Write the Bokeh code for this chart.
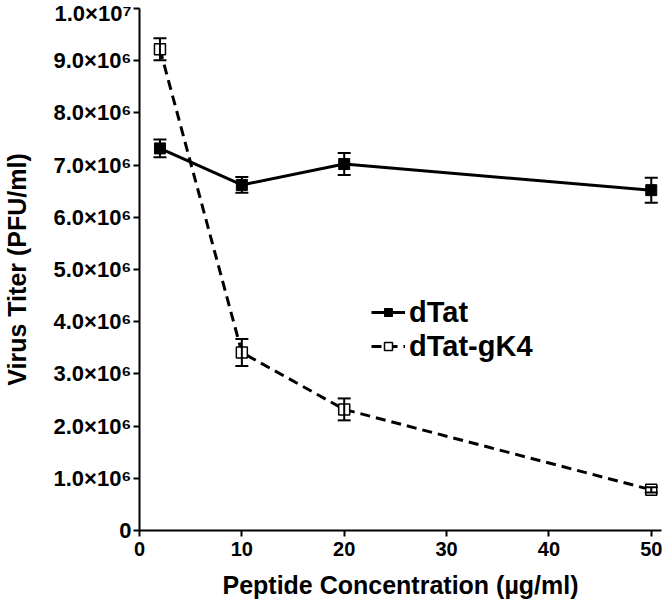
from bokeh.plotting import figure
from bokeh.models import (Range1d, FixedTicker, ColumnDataSource, Whisker,
                          TeeHead, Legend, LegendItem)
from bokeh.embed import file_html
from bokeh.resources import INLINE

# ---- data ----
concentration = [2, 10, 20, 50]
dtat_titer = [7.32e6, 6.62e6, 7.02e6, 6.52e6]
dtat_err = [0.17e6, 0.15e6, 0.21e6, 0.24e6]
gk4_titer = [9.22e6, 3.41e6, 2.32e6, 0.78e6]
gk4_err = [0.21e6, 0.26e6, 0.21e6, 0.05e6]

x_ticks = [0, 10, 20, 30, 40, 50]
y_ticks = [0, 1e6, 2e6, 3e6, 4e6, 5e6, 6e6, 7e6, 8e6, 9e6, 1e7]
y_tick_labels = ["0", "1.0×10⁶", "2.0×10⁶", "3.0×10⁶", "4.0×10⁶", "5.0×10⁶",
                 "6.0×10⁶", "7.0×10⁶", "8.0×10⁶", "9.0×10⁶", "1.0×10⁷"]

series_names = ["dTat", "dTat-gK4"]

FONT = "Liberation Sans"

p = figure(width=662, height=613, output_backend="svg", toolbar_location=None,
           x_range=Range1d(0, 51), y_range=Range1d(0, 1e7),
           min_border_left=136, min_border_right=1, min_border_top=8,
           min_border_bottom=83)
p.outline_line_color = None
p.xgrid.visible = False
p.ygrid.visible = False
p.background_fill_color = "white"

for ax in (p.xaxis[0], p.yaxis[0]):
    ax.axis_line_width = 2
    ax.axis_line_color = "black"
    ax.major_tick_line_width = 2
    ax.major_tick_line_color = "black"
    ax.major_tick_in = 0
    ax.major_tick_out = 6
    ax.minor_tick_line_color = None
    ax.major_label_text_font = FONT
    ax.major_label_text_font_style = "bold"
    ax.major_label_text_color = "black"
    ax.axis_label_text_font = FONT
    ax.axis_label_text_font_style = "bold"
    ax.axis_label_text_font_size = "25px"
    ax.axis_label_text_color = "black"

p.xaxis.major_label_text_font_size = "20px"
p.yaxis.major_label_text_font_size = "22px"
p.xaxis.ticker = FixedTicker(ticks=x_ticks)
p.yaxis.ticker = FixedTicker(ticks=y_ticks)
p.yaxis.major_label_overrides = {t: lab for t, lab in zip(y_ticks, y_tick_labels)}
p.xaxis.major_label_standoff = 5
p.yaxis.major_label_standoff = 2
p.xaxis.axis_label = "Peptide Concentration (µg/ml)"
p.yaxis.axis_label = "Virus Titer (PFU/ml)"
p.xaxis.axis_label_standoff = 12
p.yaxis.axis_label_standoff = 19

src1 = ColumnDataSource(dict(x=concentration, y=dtat_titer,
                             lo=[v - e for v, e in zip(dtat_titer, dtat_err)],
                             hi=[v + e for v, e in zip(dtat_titer, dtat_err)]))
src2 = ColumnDataSource(dict(x=concentration, y=gk4_titer,
                             lo=[v - e for v, e in zip(gk4_titer, gk4_err)],
                             hi=[v + e for v, e in zip(gk4_titer, gk4_err)]))

l1 = p.line("x", "y", source=src1, line_color="black", line_width=3)
l2 = p.line("x", "y", source=src2, line_color="black", line_width=3,
            line_dash="10 6")

for src in (src1, src2):
    w = Whisker(base="x", upper="hi", lower="lo", source=src,
                line_color="black", line_width=2, level="glyph",
                upper_head=TeeHead(size=13, line_width=2, line_color="black"),
                lower_head=TeeHead(size=13, line_width=2, line_color="black"))
    p.add_layout(w)

m1 = p.scatter("x", "y", source=src1, marker="square", size=11,
               fill_color="black", line_color="black", line_width=1)
m2 = p.scatter("x", "y", source=src2, marker="square", size=11,
               fill_color="white", line_color="black", line_width=1.5)

legend = Legend(items=[LegendItem(label=series_names[0], renderers=[l1, m1]),
                       LegendItem(label=series_names[1], renderers=[l2, m2])],
                location=(232, 167), padding=0, margin=0, spacing=0,
                glyph_width=34, glyph_height=20, label_height=34,
                label_standoff=4,
                label_text_font=FONT, label_text_font_style="bold",
                label_text_font_size="29px", label_text_color="black",
                background_fill_alpha=0, border_line_color=None)
p.add_layout(legend, "center")

with open("out.html", "w") as f:
    f.write(file_html(p, INLINE))
